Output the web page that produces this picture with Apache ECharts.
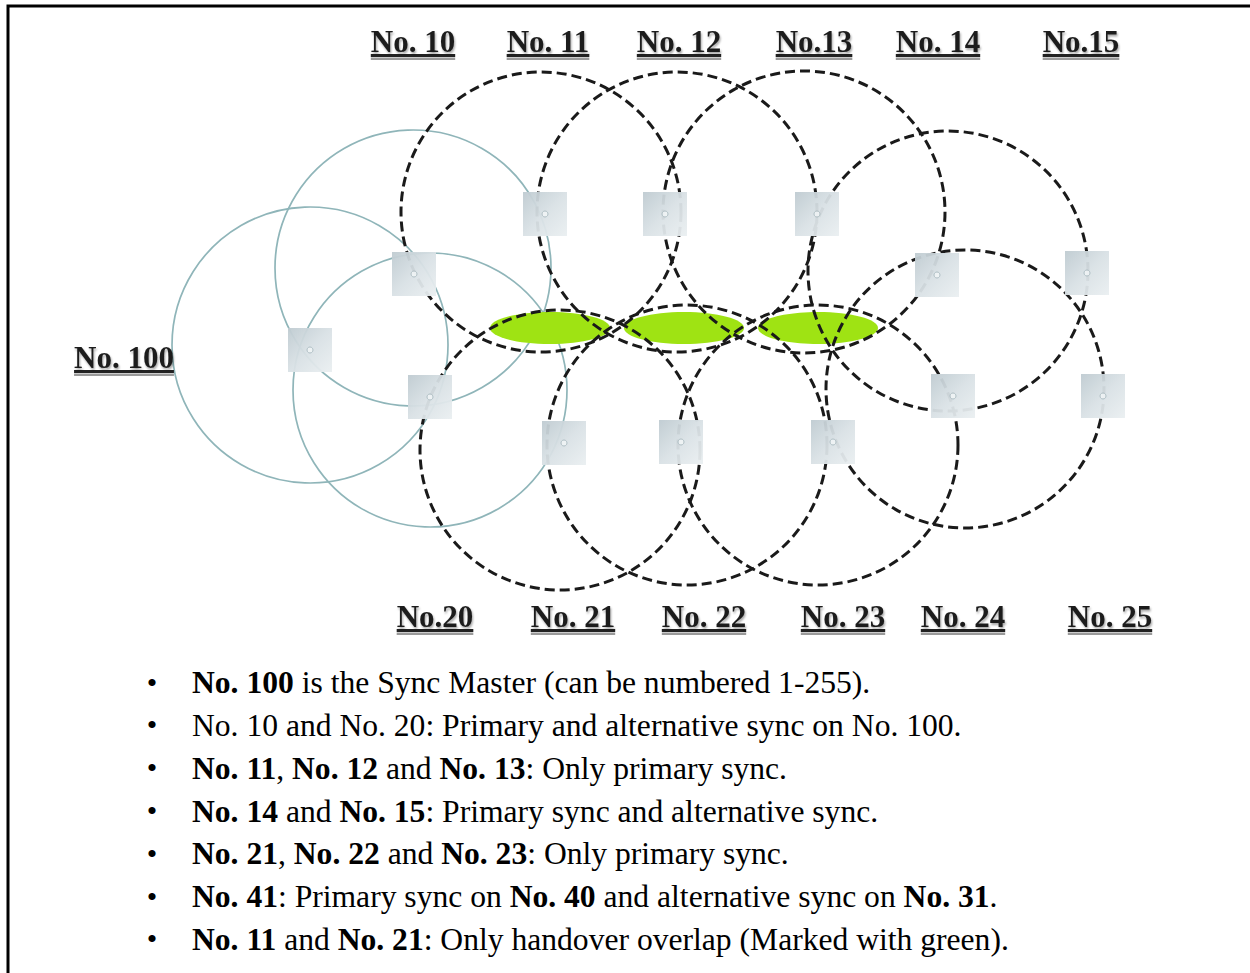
<!DOCTYPE html>
<html>
<head>
<meta charset="utf-8">
<script src="https://cdn.jsdelivr.net/npm/echarts@6/dist/echarts.min.js"></script>
<style>
html,body{margin:0;padding:0;background:#fff;}
#chart{width:1250px;height:973px;}
</style>
</head>
<body>
<div id="chart"></div>
<script>
// ---- data ----
const nodeNames = ['No. 100','No. 10','No. 20','No. 11','No. 12','No. 13','No. 14','No. 15','No. 21','No. 22','No. 23','No. 24','No. 25'];
const nodeX = [310, 414, 430, 545, 665, 817, 937, 1087, 564, 681, 833, 953, 1103];
const nodeY = [350, 274, 397, 214, 214, 214, 275, 273, 443, 442, 442, 396, 396];

// solid coverage (sync master + No.10 / No.20)
const solidCx = [310, 413, 430];
const solidCy = [345, 268, 390];
const solidR  = [138, 138, 137];

// dashed coverage (No.11,12,13,14,21,22,23,24)
const dashCx = [541, 677, 804, 948, 560, 687, 818, 965];
const dashCy = [212, 212, 212, 271, 450, 445, 445, 389];
const dashR  = [140, 140, 141, 140, 140, 140, 140, 139];

// handover overlap zones (green)
const overlapCx = [550, 684, 818];
const overlapCy = [328, 328, 328];
const overlapRx = [60, 60, 60];
const overlapRy = [16, 16, 16];

// station labels
const labelText = ['No. 10','No. 11','No. 12','No.13','No. 14','No.15','No.20','No. 21','No. 22','No. 23','No. 24','No. 25','No. 100'];
const labelX = [413, 548, 679, 814, 938, 1081, 435, 573, 704, 843, 963, 1110, 124];
const labelY = [41, 41, 41, 41, 41, 41, 616, 616, 616, 616, 616, 616, 357];

// notes
const notes = [
  '{b|No. 100} is the Sync Master (can be numbered 1-255).',
  'No. 10 and No. 20: Primary and alternative sync on No. 100.',
  '{b|No. 11}, {b|No. 12} and {b|No. 13}: Only primary sync.',
  '{b|No. 14} and {b|No. 15}: Primary sync and alternative sync.',
  '{b|No. 21}, {b|No. 22} and {b|No. 23}: Only primary sync.',
  '{b|No. 41}: Primary sync on {b|No. 40} and alternative sync on {b|No. 31}.',
  '{b|No. 11} and {b|No. 21}: Only handover overlap (Marked with green).'
];

// ---- chart ----
const chart = echarts.init(document.getElementById('chart'), null, {renderer: 'svg'});
const measureCtx = document.createElement('canvas').getContext('2d');
const LABEL_FONT = 'bold 31px "Liberation Serif"';
measureCtx.font = LABEL_FONT;

function circleSeries(cx, cy, r, style, z) {
  return {
    type: 'custom', z: z, silent: true,
    data: cx.map((x, i) => [x, cy[i], r[i]]),
    renderItem: function (params, api) {
      const c = api.coord([api.value(0), api.value(1)]);
      const rr = api.size([api.value(2), 0])[0];
      return {type: 'circle', shape: {cx: c[0], cy: c[1], r: rr}, style: style};
    }
  };
}

const NOTE_SIZE = 31.6;
const noteGraphics = [];
notes.forEach((t, i) => {
  const baseline = 693 + i * 42.8;
  noteGraphics.push({
    type: 'text', x: 152, y: baseline - 11, silent: true,
    style: {text: '\u2022', fontSize: 30, fontFamily: 'Liberation Serif', fill: '#000', align: 'center', verticalAlign: 'middle'}
  });
  noteGraphics.push({
    type: 'text', x: 192, y: baseline - 10.4, silent: true,
    style: {
      text: t, fontSize: NOTE_SIZE, fontFamily: 'Liberation Serif', fill: '#000', verticalAlign: 'middle',
      rich: {b: {fontSize: NOTE_SIZE, fontFamily: 'Liberation Serif', fontWeight: 'bold', fill: '#000'}}
    }
  });
});
noteGraphics.push({
  type: 'rect', silent: true, z: 100,
  shape: {x: 8, y: 6, width: 1300, height: 1000},
  style: {fill: null, stroke: '#000', lineWidth: 3}
});

const option = {
  animation: false,
  backgroundColor: '#fff',
  grid: {left: 0, right: 0, top: 0, bottom: 0},
  xAxis: {type: 'value', min: 0, max: 1250, show: false},
  yAxis: {type: 'value', min: 0, max: 973, inverse: true, show: false},
  graphic: noteGraphics,
  series: [
    circleSeries(solidCx, solidCy, solidR, {fill: null, stroke: '#8fb5b9', lineWidth: 1.7}, 1),
    {
      type: 'custom', z: 2, silent: true,
      data: overlapCx.map((x, i) => [x, overlapCy[i], overlapRx[i], overlapRy[i]]),
      renderItem: function (params, api) {
        const c = api.coord([api.value(0), api.value(1)]);
        const s = api.size([api.value(2), api.value(3)]);
        return {type: 'ellipse', shape: {cx: c[0], cy: c[1], rx: s[0], ry: s[1]}, style: {fill: '#9fe313', stroke: null}};
      }
    },
    circleSeries(dashCx, dashCy, dashR, {fill: null, stroke: '#1a1a1a', lineWidth: 3, lineDash: [10, 5]}, 3),
    {
      type: 'scatter', z: 4, silent: true,
      symbol: 'rect', symbolSize: 44,
      data: nodeX.map((x, i) => [x, nodeY[i], nodeNames[i]]),
      itemStyle: {
        opacity: 0.95,
        color: {type: 'linear', x: 0, y: 0, x2: 1, y2: 1, colorStops: [
          {offset: 0, color: '#bfcbd1'}, {offset: 0.5, color: '#d9e1e5'}, {offset: 1, color: '#eaeff1'}
        ]}
      }
    },
    {
      type: 'scatter', z: 5, silent: true,
      symbol: 'circle', symbolSize: 6,
      data: nodeX.map((x, i) => [x, nodeY[i]]),
      itemStyle: {color: '#f3f6f7', borderColor: '#a3b4ba', borderWidth: 1}
    },
    {
      type: 'custom', z: 6, silent: true,
      data: labelX.map((x, i) => [x, labelY[i], labelText[i]]),
      renderItem: function (params, api) {
        const c = api.coord([api.value(0), api.value(1)]);
        const txt = labelText[params.dataIndex];
        const w = measureCtx.measureText(txt).width;
        return {
          type: 'group',
          children: [
            {type: 'rect', shape: {x: c[0] - w / 2, y: c[1] + 16.5, width: w, height: 2.5}, style: {fill: '#9a9a9a'}},
            {type: 'rect', shape: {x: c[0] - w / 2, y: c[1] + 13, width: w, height: 3}, style: {fill: '#222'}},
            {type: 'text', x: c[0], y: c[1], style: {
              text: txt, font: LABEL_FONT, fill: '#1e1e1e', align: 'center', verticalAlign: 'middle',
              textShadowColor: 'rgba(0,0,0,0.35)', textShadowOffsetX: 1, textShadowOffsetY: 2, textShadowBlur: 2
            }}
          ]
        };
      }
    }
  ]
};
chart.setOption(option);
</script>
</body>
</html>
